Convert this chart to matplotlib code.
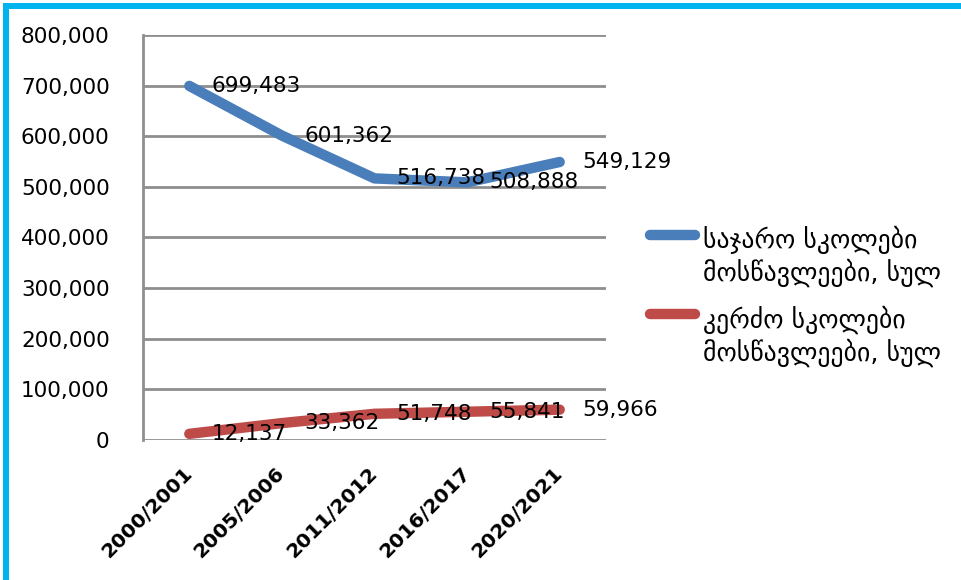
import matplotlib
matplotlib.use("Agg")
import matplotlib.pyplot as plt
from matplotlib.patches import Rectangle
from matplotlib.ticker import FuncFormatter, MultipleLocator

categories = ["2000/2001", "2005/2006", "2011/2012", "2016/2017", "2020/2021"]
public_students = [699483, 601362, 516738, 508888, 549129]
private_students = [12137, 33362, 51748, 55841, 59966]
series_labels = ["საჯარო სკოლები\nმოსწავლეები, სულ", "კერძო სკოლები\nმოსწავლეები, სულ"]

BLUE = "#4A7EBB"
RED = "#BE4B48"
GRID = "#8E8E8E"
FS = 15.5

plt.rcParams["font.family"] = ["DejaVu Sans"]

fig = plt.figure(figsize=(9.61, 5.80), dpi=100)
ax = fig.add_axes([143 / 961, 1 - 440 / 580, (606 - 143) / 961, (440 - 35) / 580])

x = list(range(len(categories)))
l1, = ax.plot(x, public_students, color=BLUE, lw=7.5, solid_capstyle="round",
              solid_joinstyle="round", label=series_labels[0], zorder=3)
l2, = ax.plot(x, private_students, color=RED, lw=7.5, solid_capstyle="round",
              solid_joinstyle="round", label=series_labels[1], zorder=3)

for xs, ys in ((x, public_students), (x, private_students)):
    for xi, yi in zip(xs, ys):
        ax.annotate(f"{yi:,}", (xi, yi), xytext=(16, 0), textcoords="offset points",
                    ha="left", va="center", fontsize=FS, color="black", zorder=4,
                    annotation_clip=False)

ax.set_xlim(-0.5, len(categories) - 0.5)
ax.set_ylim(0, 800000)
ax.yaxis.set_major_locator(MultipleLocator(100000))
ax.yaxis.set_major_formatter(FuncFormatter(lambda v, p: f"{int(v):,}" if v else "0"))
ax.set_xticks(x)
ax.set_xticklabels(categories, rotation=45, ha="right", va="center",
                   rotation_mode="anchor", fontsize=14.5, fontweight="bold")
ax.tick_params(axis="y", length=0, pad=24, labelsize=FS)
ax.tick_params(axis="x", length=0, pad=22)
ax.grid(axis="y", color=GRID, lw=2.0, zorder=1)
ax.set_axisbelow(True)
for s in ("top", "right", "bottom"):
    ax.spines[s].set_visible(False)
ax.spines["left"].set_color(GRID)
ax.spines["left"].set_linewidth(2.0)

leg = ax.legend(handles=[l1, l2], loc="upper left", bbox_to_anchor=(650 / 961, 1 - 226 / 580),
                bbox_transform=fig.transFigure, frameon=False, fontsize=18.5,
                handlelength=1.75, handletextpad=0.3, labelspacing=0.7,
                borderpad=0, borderaxespad=0)
for col in leg._legend_handle_box.get_children():
    for row in col.get_children():
        row.align = "top"

# decorative border (top and left)
CYAN = "#00B4F0"
fig.add_artist(Rectangle((3 / 961, 1 - 9 / 580), 1, 6 / 580, transform=fig.transFigure,
                         color=CYAN, lw=0))
fig.add_artist(Rectangle((3 / 961, 0), 6 / 961, 1 - 3 / 580, transform=fig.transFigure,
                         color=CYAN, lw=0))

fig.savefig("out.png", dpi=100)
